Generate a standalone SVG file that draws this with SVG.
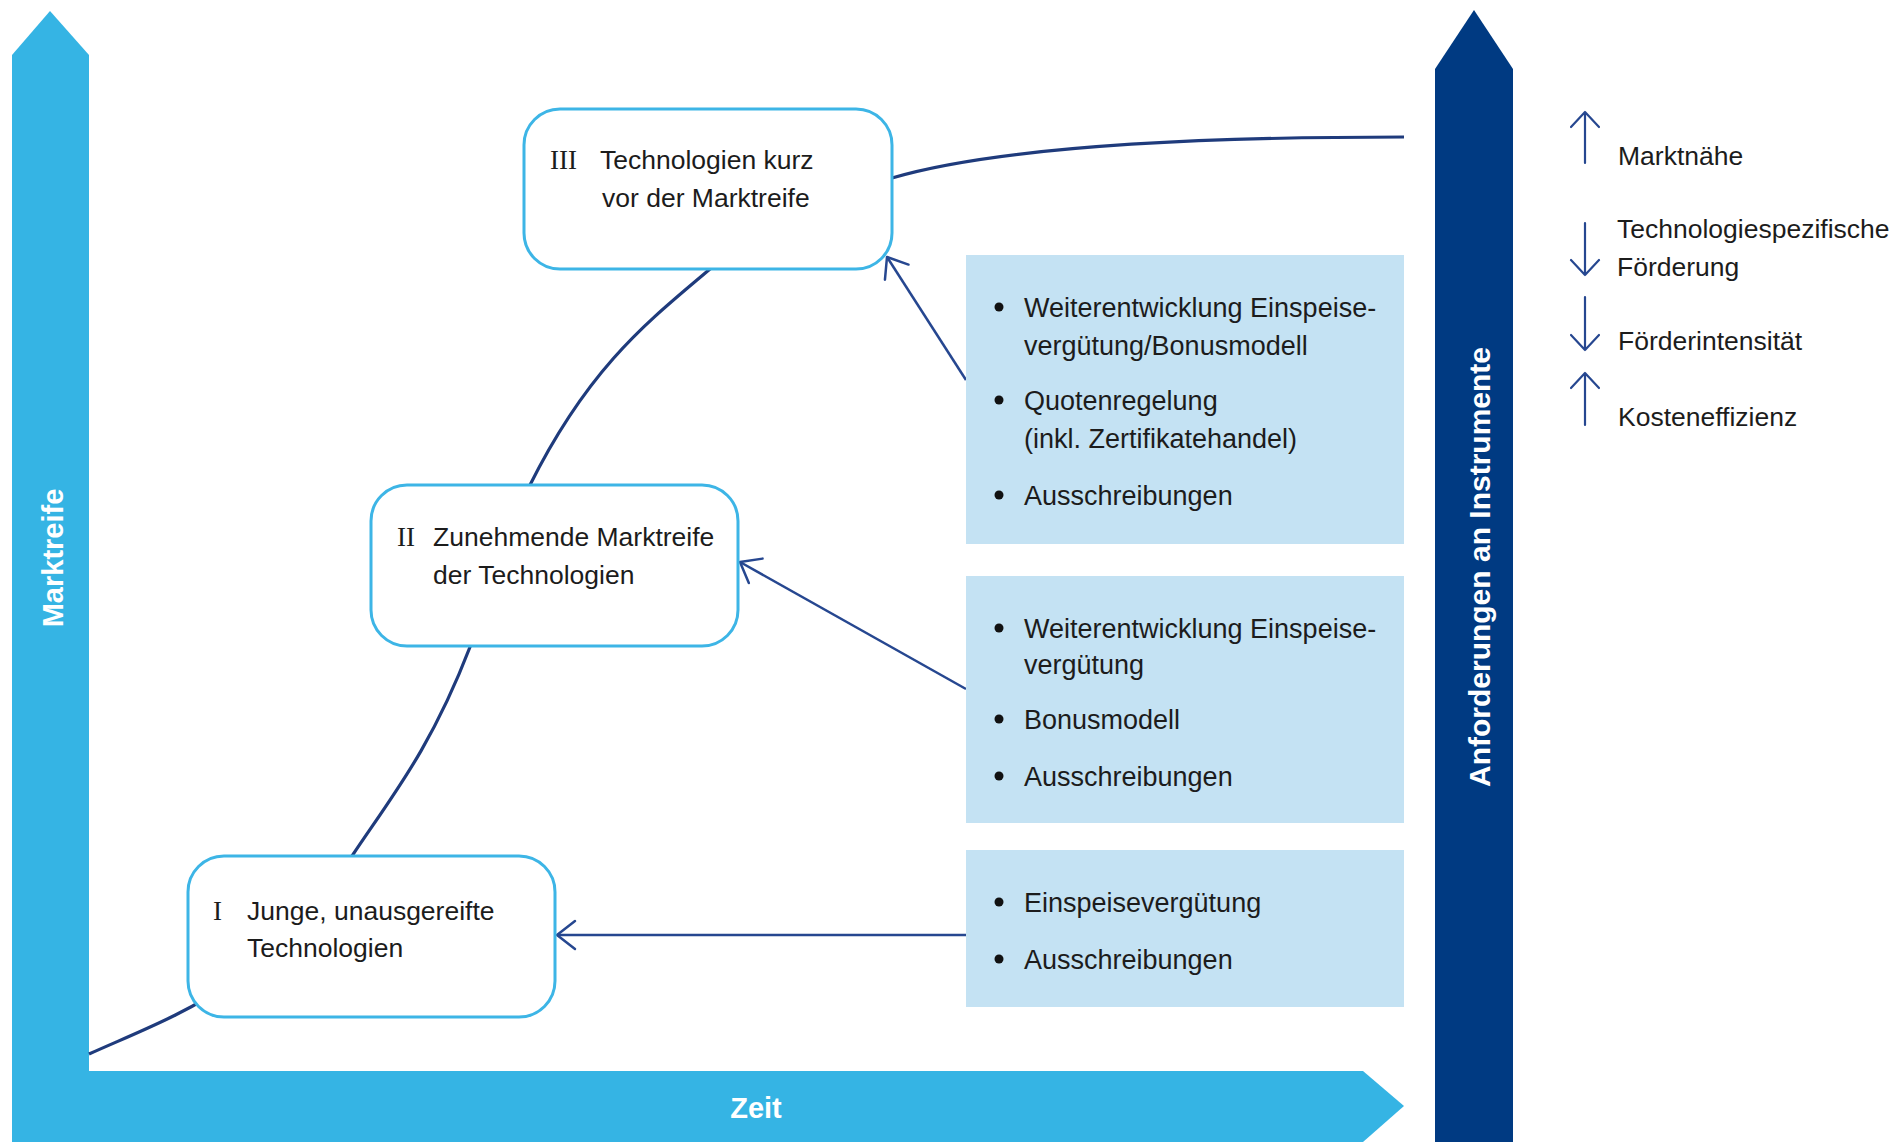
<svg xmlns="http://www.w3.org/2000/svg" width="1903" height="1142" viewBox="0 0 1903 1142">
  <defs>
    <marker id="openArrow" markerUnits="userSpaceOnUse" markerWidth="40" markerHeight="40" viewBox="-24 -20 30 40" refX="0" refY="0" orient="auto">
      <path d="M-18,-14 L0,0 L-18,14" fill="none" stroke="#264790" stroke-width="2.5" stroke-linecap="round" stroke-linejoin="round"/>
    </marker>
    <style>
      .txt { font-family: "Liberation Sans", Arial, sans-serif; font-size: 26.5px; fill: #1c1c1c; }
      .num { font-family: "Liberation Serif", "Times New Roman", serif; font-size: 27px; fill: #1c1c1c; }
      .list { font-family: "Liberation Sans", Arial, sans-serif; font-size: 27px; fill: #1c1c1c; }
      .white { font-family: "Liberation Sans", Arial, sans-serif; font-weight: bold; fill: #ffffff; }
      .stage { fill: #ffffff; stroke: #3db5e6; stroke-width: 3; }
      .instr { fill: #c4e2f3; }
      .bullet { fill: #111111; }
      .conn { fill: none; stroke: #264790; stroke-width: 2.5; marker-end: url(#openArrow); }
      .curve { fill: none; stroke: #1f3b7c; stroke-width: 3.2; }
      .legend { fill: none; stroke: #264790; stroke-width: 2.2; stroke-linecap: round; stroke-linejoin: round; }
    </style>
  </defs>

  <rect x="0" y="0" width="1903" height="1142" fill="#ffffff"/>

  <!-- Axes -->
  <g id="axis-marktreife">
    <polygon points="12,55 50,11 89,55 89,1142 12,1142" fill="#35b4e4"/>
    <text class="white" font-size="29" text-anchor="middle" transform="translate(63,558) rotate(-90)">Marktreife</text>
  </g>
  <g id="axis-zeit">
    <polygon points="89,1071 1363,1071 1404,1106 1363,1142 89,1142" fill="#35b4e4"/>
    <text class="white" font-size="29" text-anchor="middle" x="756" y="1118">Zeit</text>
  </g>
  <g id="axis-anforderungen">
    <polygon points="1435,69 1474,10 1513,69 1513,1142 1435,1142" fill="#003a82"/>
    <text class="white" font-size="30" text-anchor="middle" transform="translate(1490,567) rotate(-90)">Anforderungen an Instrumente</text>
  </g>

  <!-- Connectors -->
  <g id="connectors">
    <path class="curve" d="M89,1054 C176.7,1014.5 264.3,987.6 352,856 C391.3,797 430.7,749.2 470,647 C490,595 510,525 530,485 C590,365 650,320 710,269 C770.7,217.4 831.3,196.2 892,178 C960,158 1100,137 1404,137"/>
    <path class="conn" d="M966,380 L887,257"/>
    <path class="conn" d="M966,689 L740,562"/>
    <path class="conn" d="M966,935 L557,935"/>
  </g>

  <!-- Stage nodes -->
  <g id="stage-3">
    <rect class="stage" x="524" y="109" width="368" height="160" rx="36" ry="36"/>
    <text class="num" x="550" y="169">III</text>
    <text class="txt" x="600" y="169">Technologien kurz</text>
    <text class="txt" x="602" y="207">vor der Marktreife</text>
  </g>
  <g id="stage-2">
    <rect class="stage" x="371" y="485" width="367" height="161" rx="36" ry="36"/>
    <text class="num" x="397" y="546">II</text>
    <text class="txt" x="433" y="546">Zunehmende Marktreife</text>
    <text class="txt" x="433" y="584">der Technologien</text>
  </g>
  <g id="stage-1">
    <rect class="stage" x="188" y="856" width="367" height="161" rx="36" ry="36"/>
    <text class="num" x="213" y="920">I</text>
    <text class="txt" x="247" y="920">Junge, unausgereifte</text>
    <text class="txt" x="247" y="957">Technologien</text>
  </g>

  <!-- Instrument nodes -->
  <g id="instruments-3">
    <rect class="instr" x="966" y="255" width="438" height="289"/>
    <circle class="bullet" cx="999" cy="307" r="4.5"/>
    <text class="list" x="1024" y="317">Weiterentwicklung Einspeise-</text>
    <text class="list" x="1024" y="355">vergütung/Bonusmodell</text>
    <circle class="bullet" cx="999" cy="400" r="4.5"/>
    <text class="list" x="1024" y="410">Quotenregelung</text>
    <text class="list" x="1024" y="448">(inkl. Zertifikatehandel)</text>
    <circle class="bullet" cx="999" cy="495" r="4.5"/>
    <text class="list" x="1024" y="505">Ausschreibungen</text>
  </g>
  <g id="instruments-2">
    <rect class="instr" x="966" y="576" width="438" height="247"/>
    <circle class="bullet" cx="999" cy="628" r="4.5"/>
    <text class="list" x="1024" y="638">Weiterentwicklung Einspeise-</text>
    <text class="list" x="1024" y="674">vergütung</text>
    <circle class="bullet" cx="999" cy="719" r="4.5"/>
    <text class="list" x="1024" y="729">Bonusmodell</text>
    <circle class="bullet" cx="999" cy="776" r="4.5"/>
    <text class="list" x="1024" y="786">Ausschreibungen</text>
  </g>
  <g id="instruments-1">
    <rect class="instr" x="966" y="850" width="438" height="157"/>
    <circle class="bullet" cx="999" cy="902" r="4.5"/>
    <text class="list" x="1024" y="912">Einspeisevergütung</text>
    <circle class="bullet" cx="999" cy="959" r="4.5"/>
    <text class="list" x="1024" y="969">Ausschreibungen</text>
  </g>

  <!-- Legend -->
  <g id="legend-marktnaehe">
    <path class="legend" d="M1585,163 L1585,112 M1571,127 L1585,112 L1599,127"/>
    <text class="txt" x="1618" y="165">Marktnähe</text>
  </g>
  <g id="legend-technologiespezifisch">
    <path class="legend" d="M1585,223 L1585,275 M1571,260 L1585,275 L1599,260"/>
    <text class="txt" x="1617" y="238">Technologiespezifische</text>
    <text class="txt" x="1617" y="276">Förderung</text>
  </g>
  <g id="legend-foerderintensitaet">
    <path class="legend" d="M1585,297 L1585,350 M1571,335 L1585,350 L1599,335"/>
    <text class="txt" x="1618" y="350">Förderintensität</text>
  </g>
  <g id="legend-kosteneffizienz">
    <path class="legend" d="M1585,425 L1585,373 M1571,388 L1585,373 L1599,388"/>
    <text class="txt" x="1618" y="426">Kosteneffizienz</text>
  </g>
</svg>
